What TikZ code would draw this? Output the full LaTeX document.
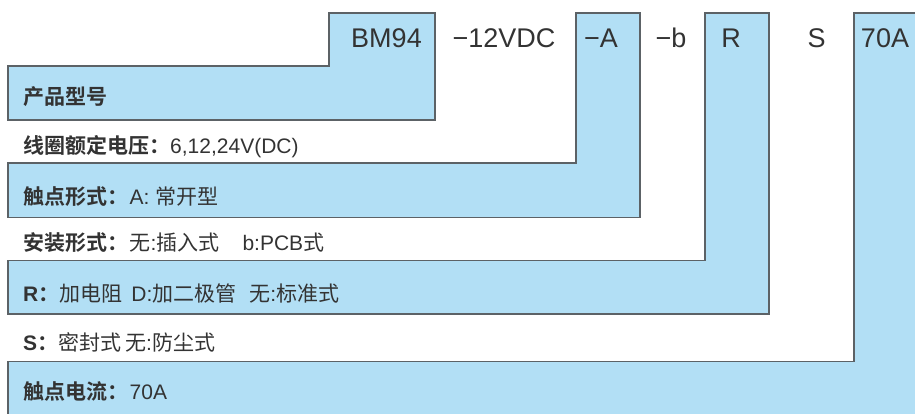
\documentclass[tikz,border=0pt]{standalone}
\usepackage{fontspec}
\setmainfont{Liberation Sans}
\newfontfamily\cjk{Noto Sans CJK SC}
\newfontfamily\cjkb{Noto Sans CJK SC Bold}
\definecolor{boxfill}{HTML}{B2DFF5}
\definecolor{boxline}{HTML}{5C6266}
\definecolor{txt}{HTML}{333333}
\newcommand{\zh}[1]{{\cjk #1}}
\newcommand{\zhb}[1]{{\cjkb #1}}
\begin{document}
\begin{tikzpicture}[x=1pt,y=-1pt,
  stepshape/.style={fill=boxfill,draw=boxline,line width=1.4pt,line join=miter},
  toplabel/.style={inner sep=0pt,text=txt,font=\fontsize{27}{27}\selectfont,anchor=center},
  desc/.style={inner sep=0pt,text=txt,font=\fontsize{21}{21}\selectfont,anchor=west}]
\useasboundingbox (0,0) rectangle (915,413);
\begin{scope}
\clip (0,0) rectangle (915,413);
\draw[stepshape] (329,13) -- (435,13) -- (435,120) -- (8,120) -- (8,66) -- (329,66) -- cycle;
\draw[stepshape] (576,13) -- (640,13) -- (640,217.5) -- (8,217.5) -- (8,163) -- (576,163) -- cycle;
\draw[stepshape] (705,13) -- (769,13) -- (769,314) -- (8,314) -- (8,260.5) -- (705,260.5) -- cycle;
\draw[stepshape] (854,13) -- (925,13) -- (925,425) -- (8,425) -- (8,361.5) -- (854,361.5) -- cycle;
\end{scope}
% top code labels
\node[toplabel] (bm) at (386.5,38) {BM94};
\node[toplabel] (volt) at (504,38) {−12VDC};
\node[toplabel] (a) at (601,38) {−A};
\node[toplabel] (b) at (671,38) {−b};
\node[toplabel] (r) at (731,38) {R};
\node[toplabel] (s) at (816.5,38) {S};
\node[toplabel] (cur) at (885,38) {70A};
% description lines
\node[desc] (l1) at (23,97) {\zhb{产品型号}};
\node[desc] (l2) at (23,146.5) {\zhb{线圈额定电压：}6,12,24V(DC)};
\node[desc] (l3) at (23,196.5) {\zhb{触点形式：}\hspace{1.5pt}A: \zh{常开型}};
\node[desc] (l4) at (23,243) {\zhb{安装形式：}\hspace{1.5pt}\zh{无}:\zh{插入式}\hspace{23pt}b:PCB\zh{式}};
\node[desc] (l5) at (23,293) {\textbf{R}\zhb{：}\zh{加电阻}\hspace{9pt}D:\zh{加二极管}\hspace{13pt}\zh{无}:\zh{标准式}};
\node[desc] (l6) at (23,342) {\textbf{S}\zhb{：}\zh{密封式}\hspace{4pt}\zh{无}:\zh{防尘式}};
\node[desc] (l7) at (23,392) {\zhb{触点电流：}\hspace{1.5pt}70A};
\end{tikzpicture}
\end{document}
